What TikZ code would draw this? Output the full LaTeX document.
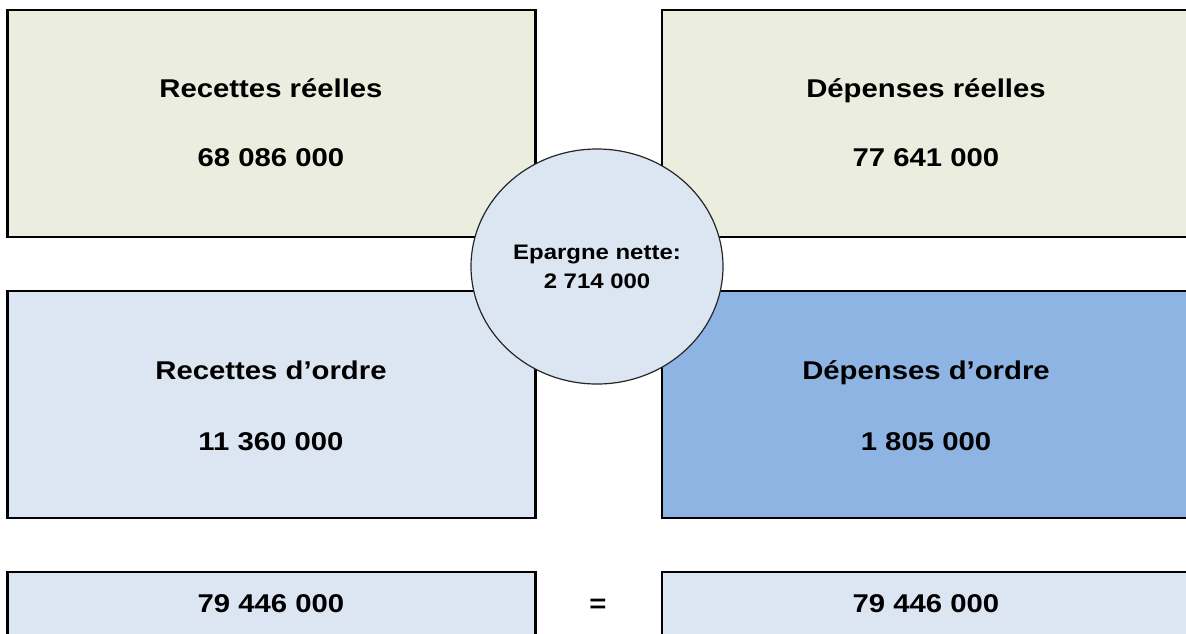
\documentclass[tikz,border=0pt]{standalone}
\usepackage{fontspec}
\setmainfont{Liberation Sans}[FakeStretch=1.14]
\usetikzlibrary{shapes.geometric}
\definecolor{olivebg}{HTML}{EBEEDF}
\definecolor{paleblue}{HTML}{DCE6F2}
\definecolor{midblue}{HTML}{8EB4E3}
\begin{document}
\begin{tikzpicture}[x=1pt,y=-1pt,
  box/.style={draw=black, line width=2.4pt, minimum width=528pt, minimum height=227pt, inner sep=0pt, outer sep=0pt},
  lbl/.style={font=\bfseries\fontsize{25.7}{30}\selectfont, inner sep=0pt, anchor=base},
  clbl/.style={font=\bfseries\fontsize{21}{25}\selectfont, inner sep=0pt, anchor=base}]
\useasboundingbox (0,0) rectangle (1186,633);
\clip (0,0) rectangle (1186,633);
% boxes
\node[box, fill=olivebg] (rr) at (271.5,123.5) {};
\node[box, fill=olivebg] (dr) at (926,123.5) {};
\node[box, fill=paleblue] (ro) at (271.5,404.5) {};
\node[box, fill=midblue] (do) at (926,404.5) {};
\node[box, fill=paleblue] (tl) at (271.5,685.5) {};
\node[box, fill=paleblue] (tr) at (926,685.5) {};
% circle
\node[ellipse, draw=black!85, line width=1.2pt, fill=paleblue, minimum width=252pt, minimum height=235pt, inner sep=0pt] (ep) at (597,266.5) {};
% labels
\node[lbl] (rrt) at (271,97) {Recettes réelles};
\node[lbl] (rrn) at (271,166) {68 086 000};
\node[lbl] (drt) at (926,97) {Dépenses réelles};
\node[lbl] (drn) at (926,166) {77 641 000};
\node[lbl] (rot) at (271,379) {Recettes d’ordre};
\node[lbl] (ron) at (271,450) {11 360 000};
\node[lbl] (dot) at (926,379) {Dépenses d’ordre};
\node[lbl] (don) at (926,450) {1 805 000};
\node[lbl] (tln) at (271,612) {79 446 000};
\node[lbl] (trn) at (926,612) {79 446 000};
\node[lbl] (eq) at (598,612) {=};
\node[clbl] (ept) at (597,259) {Epargne nette:};
\node[clbl] (epn) at (597,288) {2 714 000};
\end{tikzpicture}
\end{document}
